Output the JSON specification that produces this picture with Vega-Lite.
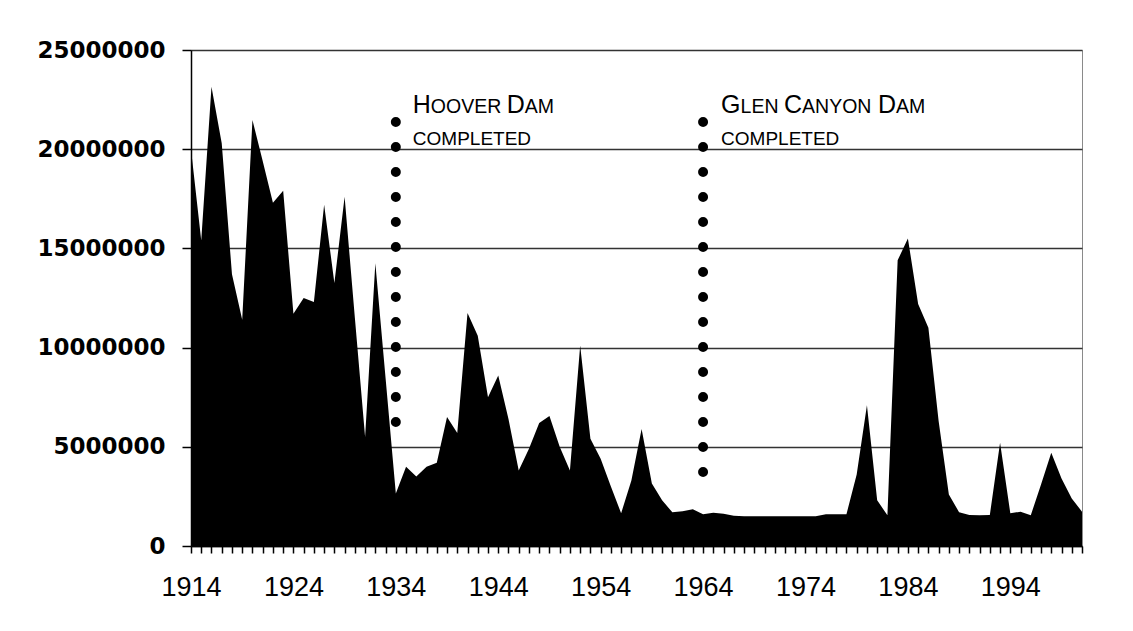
{
  "$schema": "https://vega.github.io/schema/vega-lite/v6.json",
  "width": 891,
  "height": 496,
  "autosize": {"type": "none"},
  "padding": {"left": 191, "top": 50, "right": 51, "bottom": 85},
  "background": "white",
  "config": {"view": {"stroke": "#8a8a8a", "strokeWidth": 1}},
  "resolve": {"axis": {"x": "independent", "y": "independent"}},
  "layer": [
    {
      "data": {"values": [
        {"year":1914,"flow":20000000},{"year":1915,"flow":15400000},{"year":1916,"flow":23150000},{"year":1917,"flow":20300000},
        {"year":1918,"flow":13700000},{"year":1919,"flow":11400000},{"year":1920,"flow":21470000},{"year":1921,"flow":19400000},
        {"year":1922,"flow":17300000},{"year":1923,"flow":17900000},{"year":1924,"flow":11700000},{"year":1925,"flow":12500000},
        {"year":1926,"flow":12300000},{"year":1927,"flow":17200000},{"year":1928,"flow":13250000},{"year":1929,"flow":17600000},
        {"year":1930,"flow":11500000},{"year":1931,"flow":5500000},{"year":1932,"flow":14250000},{"year":1933,"flow":8450000},
        {"year":1934,"flow":2650000},{"year":1935,"flow":4000000},{"year":1936,"flow":3500000},{"year":1937,"flow":4000000},
        {"year":1938,"flow":4200000},{"year":1939,"flow":6500000},{"year":1940,"flow":5700000},{"year":1941,"flow":11750000},
        {"year":1942,"flow":10600000},{"year":1943,"flow":7500000},{"year":1944,"flow":8600000},{"year":1945,"flow":6400000},
        {"year":1946,"flow":3800000},{"year":1947,"flow":4900000},{"year":1948,"flow":6200000},{"year":1949,"flow":6550000},
        {"year":1950,"flow":5000000},{"year":1951,"flow":3800000},{"year":1952,"flow":10100000},{"year":1953,"flow":5400000},
        {"year":1954,"flow":4400000},{"year":1955,"flow":3000000},{"year":1956,"flow":1650000},{"year":1957,"flow":3300000},
        {"year":1958,"flow":5900000},{"year":1959,"flow":3150000},{"year":1960,"flow":2300000},{"year":1961,"flow":1700000},
        {"year":1962,"flow":1750000},{"year":1963,"flow":1850000},{"year":1964,"flow":1600000},{"year":1965,"flow":1680000},
        {"year":1966,"flow":1620000},{"year":1967,"flow":1520000},{"year":1968,"flow":1500000},{"year":1969,"flow":1500000},
        {"year":1970,"flow":1500000},{"year":1971,"flow":1500000},{"year":1972,"flow":1500000},{"year":1973,"flow":1500000},
        {"year":1974,"flow":1500000},{"year":1975,"flow":1500000},{"year":1976,"flow":1600000},{"year":1977,"flow":1600000},
        {"year":1978,"flow":1600000},{"year":1979,"flow":3600000},{"year":1980,"flow":7100000},{"year":1981,"flow":2300000},
        {"year":1982,"flow":1550000},{"year":1983,"flow":14400000},{"year":1984,"flow":15500000},{"year":1985,"flow":12200000},
        {"year":1986,"flow":11000000},{"year":1987,"flow":6300000},{"year":1988,"flow":2600000},{"year":1989,"flow":1700000},
        {"year":1990,"flow":1560000},{"year":1991,"flow":1550000},{"year":1992,"flow":1560000},{"year":1993,"flow":5200000},
        {"year":1994,"flow":1650000},{"year":1995,"flow":1730000},{"year":1996,"flow":1550000},{"year":1997,"flow":3100000},
        {"year":1998,"flow":4700000},{"year":1999,"flow":3400000},{"year":2000,"flow":2400000},{"year":2001,"flow":1730000}
      ]},
      "mark": {"type": "area", "color": "black", "interpolate": "linear", "opacity": 1},
      "encoding": {
        "x": {"field": "year", "type": "quantitative",
          "scale": {"domain": [1914, 2001], "nice": false, "zero": false},
          "axis": {"orient": "bottom", "title": null, "grid": false, "labels": false,
            "values": [1914,1915,1916,1917,1918,1919,1920,1921,1922,1923,1924,1925,1926,1927,1928,1929,1930,1931,1932,1933,1934,1935,1936,1937,1938,1939,1940,1941,1942,1943,1944,1945,1946,1947,1948,1949,1950,1951,1952,1953,1954,1955,1956,1957,1958,1959,1960,1961,1962,1963,1964,1965,1966,1967,1968,1969,1970,1971,1972,1973,1974,1975,1976,1977,1978,1979,1980,1981,1982,1983,1984,1985,1986,1987,1988,1989,1990,1991,1992,1993,1994,1995,1996,1997,1998,1999,2000,2001],
            "domainColor": "black", "domainWidth": 1.5,
            "tickColor": "black", "tickWidth": 1.5, "tickSize": 7}
        },
        "y": {"field": "flow", "type": "quantitative",
          "scale": {"domain": [0, 25000000], "nice": false},
          "axis": {"orient": "left", "title": null, "values": [0, 5000000, 10000000, 15000000, 20000000, 25000000], "format": "d",
            "grid": true, "gridColor": "#333333", "gridWidth": 1.5,
            "labelFont": "DejaVu Sans", "labelFontWeight": "bold", "labelFontSize": 23, "labelColor": "black",
            "labelPadding": 17,
            "domainColor": "black", "domainWidth": 1.5,
            "tickColor": "black", "tickWidth": 1.5, "tickSize": 9}
        }
      }
    },
    {
      "data": {"values": [
        {"year": 1934, "top": 21370000, "bottom": 6150000},
        {"year": 1964, "top": 21370000, "bottom": 3630000}
      ]},
      "mark": {"type": "rule", "color": "black", "strokeWidth": 10, "strokeCap": "round", "strokeDash": [0, 25]},
      "encoding": {
        "x": {"field": "year", "type": "quantitative",
          "axis": {"orient": "bottom", "title": null, "grid": false, "ticks": false, "domain": false,
            "values": [1914, 1924, 1934, 1944, 1954, 1964, 1974, 1984, 1994], "format": "d",
            "labelOverlap": false, "labelFlush": false, "labelBound": false,
            "labelFont": "Liberation Sans", "labelFontSize": 27, "labelColor": "black",
            "labelPadding": 28}},
        "y": {"field": "top", "type": "quantitative", "axis": null},
        "y2": {"field": "bottom"}
      }
    },
    {"data": {"values": [{"year": 1934, "v": 21820000, "label": "H"}]},
     "mark": {"type": "text", "align": "left", "baseline": "alphabetic", "font": "Liberation Sans", "fontSize": 25, "dx": 17, "color": "black"},
     "encoding": {"x": {"field": "year", "type": "quantitative", "axis": null}, "y": {"field": "v", "type": "quantitative", "axis": null}, "text": {"field": "label"}}},
    {"data": {"values": [{"year": 1934, "v": 21820000, "label": "OOVER"}]},
     "mark": {"type": "text", "align": "left", "baseline": "alphabetic", "font": "Liberation Sans", "fontSize": 19.5, "dx": 35, "color": "black"},
     "encoding": {"x": {"field": "year", "type": "quantitative", "axis": null}, "y": {"field": "v", "type": "quantitative", "axis": null}, "text": {"field": "label"}}},
    {"data": {"values": [{"year": 1934, "v": 21820000, "label": "D"}]},
     "mark": {"type": "text", "align": "left", "baseline": "alphabetic", "font": "Liberation Sans", "fontSize": 25, "dx": 111, "color": "black"},
     "encoding": {"x": {"field": "year", "type": "quantitative", "axis": null}, "y": {"field": "v", "type": "quantitative", "axis": null}, "text": {"field": "label"}}},
    {"data": {"values": [{"year": 1934, "v": 21820000, "label": "AM"}]},
     "mark": {"type": "text", "align": "left", "baseline": "alphabetic", "font": "Liberation Sans", "fontSize": 19.5, "dx": 129, "color": "black"},
     "encoding": {"x": {"field": "year", "type": "quantitative", "axis": null}, "y": {"field": "v", "type": "quantitative", "axis": null}, "text": {"field": "label"}}},
    {"data": {"values": [{"year": 1934, "v": 20200000, "label": "COMPLETED"}]},
     "mark": {"type": "text", "align": "left", "baseline": "alphabetic", "font": "Liberation Sans", "fontSize": 19, "dx": 17, "color": "black"},
     "encoding": {"x": {"field": "year", "type": "quantitative", "axis": null}, "y": {"field": "v", "type": "quantitative", "axis": null}, "text": {"field": "label"}}},
    {"data": {"values": [{"year": 1964, "v": 21820000, "label": "G"}]},
     "mark": {"type": "text", "align": "left", "baseline": "alphabetic", "font": "Liberation Sans", "fontSize": 25, "dx": 18, "color": "black"},
     "encoding": {"x": {"field": "year", "type": "quantitative", "axis": null}, "y": {"field": "v", "type": "quantitative", "axis": null}, "text": {"field": "label"}}},
    {"data": {"values": [{"year": 1964, "v": 21820000, "label": "LEN"}]},
     "mark": {"type": "text", "align": "left", "baseline": "alphabetic", "font": "Liberation Sans", "fontSize": 19.5, "dx": 37.5, "color": "black"},
     "encoding": {"x": {"field": "year", "type": "quantitative", "axis": null}, "y": {"field": "v", "type": "quantitative", "axis": null}, "text": {"field": "label"}}},
    {"data": {"values": [{"year": 1964, "v": 21820000, "label": "C"}]},
     "mark": {"type": "text", "align": "left", "baseline": "alphabetic", "font": "Liberation Sans", "fontSize": 25, "dx": 81, "color": "black"},
     "encoding": {"x": {"field": "year", "type": "quantitative", "axis": null}, "y": {"field": "v", "type": "quantitative", "axis": null}, "text": {"field": "label"}}},
    {"data": {"values": [{"year": 1964, "v": 21820000, "label": "ANYON"}]},
     "mark": {"type": "text", "align": "left", "baseline": "alphabetic", "font": "Liberation Sans", "fontSize": 19.5, "dx": 99, "color": "black"},
     "encoding": {"x": {"field": "year", "type": "quantitative", "axis": null}, "y": {"field": "v", "type": "quantitative", "axis": null}, "text": {"field": "label"}}},
    {"data": {"values": [{"year": 1964, "v": 21820000, "label": "D"}]},
     "mark": {"type": "text", "align": "left", "baseline": "alphabetic", "font": "Liberation Sans", "fontSize": 25, "dx": 175, "color": "black"},
     "encoding": {"x": {"field": "year", "type": "quantitative", "axis": null}, "y": {"field": "v", "type": "quantitative", "axis": null}, "text": {"field": "label"}}},
    {"data": {"values": [{"year": 1964, "v": 21820000, "label": "AM"}]},
     "mark": {"type": "text", "align": "left", "baseline": "alphabetic", "font": "Liberation Sans", "fontSize": 19.5, "dx": 193, "color": "black"},
     "encoding": {"x": {"field": "year", "type": "quantitative", "axis": null}, "y": {"field": "v", "type": "quantitative", "axis": null}, "text": {"field": "label"}}},
    {"data": {"values": [{"year": 1964, "v": 20200000, "label": "COMPLETED"}]},
     "mark": {"type": "text", "align": "left", "baseline": "alphabetic", "font": "Liberation Sans", "fontSize": 19, "dx": 18, "color": "black"},
     "encoding": {"x": {"field": "year", "type": "quantitative", "axis": null}, "y": {"field": "v", "type": "quantitative", "axis": null}, "text": {"field": "label"}}}
  ]
}
